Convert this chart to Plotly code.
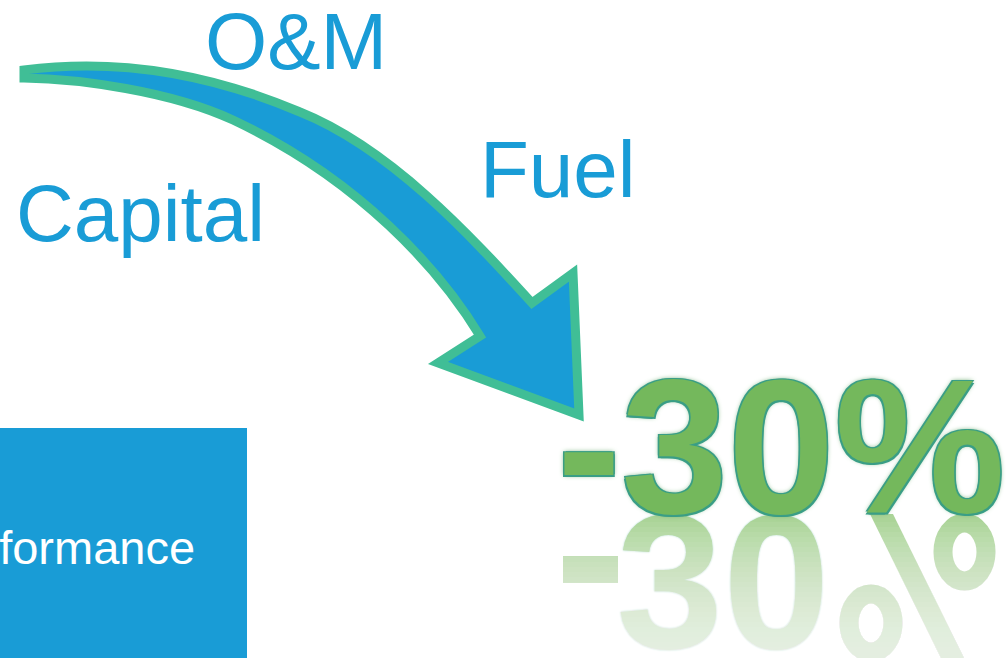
import plotly.graph_objects as go

# ---- content ----
cost_labels = ["O&M", "Fuel", "Capital"]
reduction_label = "-30%"
reflection_digits = "30"
box_label = "Performance"

# ---- style ----
BLUE = "#199cd6"
GREEN_LINE = "#40be96"
TEXT_GREEN = "#74b85c"
REFL_GREEN = "#abd498"
W, H = 1007, 658

label_pos = [(296, 41), (558, 169), (140, 213)]

fig = go.Figure()

# reflection digits (trace layer so the white fade overlay can cover them)
fig.add_trace(go.Scatter(
    x=[723], y=[600], mode="text", text=[reflection_digits],
    textposition="middle center",
    textfont=dict(family="Liberation Sans", size=192, color=REFL_GREEN, weight="bold",
                  shadow="0 0 2px #9fd6c0"),
    hoverinfo="skip", showlegend=False,
))

shapes = []
# blue box bottom-left
shapes.append(dict(type="rect", x0=-5, x1=247, y0=428, y1=665, fillcolor=BLUE,
                   line=dict(width=0), layer="below"))
# curved arrow
arrow_path = ("M 24,70 C 130,56 225,80 300,112 C 390,148 470,235 532,303 "
              "L 573,273 L 579,415 L 438,363 L 480,336 "
              "C 440,270 360,180 233,120 C 170,91 80,79 24,78 Z")
shapes.append(dict(type="path", path=arrow_path, fillcolor=BLUE,
                   line=dict(color=GREEN_LINE, width=9), layer="below"))
# reflection pieces: minus sign and mirrored percent sign
shapes.append(dict(type="rect", x0=563, x1=618, y0=556, y1=583, fillcolor=REFL_GREEN,
                   line=dict(width=0), layer="below"))
shapes.append(dict(type="circle", x0=943, x1=986, y0=523, y1=581,
                   line=dict(color=REFL_GREEN, width=19), layer="below"))
shapes.append(dict(type="circle", x0=849, x1=893, y0=594, y1=652,
                   line=dict(color=REFL_GREEN, width=19), layer="below"))
shapes.append(dict(type="path", path="M 870,514 L 893,514 L 966,662 L 943,662 Z",
                   fillcolor=REFL_GREEN, line=dict(width=0), layer="below"))
# smooth stepped white fade over the reflection
for i in range(26):
    y0 = 522 + 5 * i
    shapes.append(dict(type="rect", x0=550, x1=1010, y0=y0, y1=665,
                       fillcolor="white", opacity=0.055, line=dict(width=0), layer="above"))

annotations = []
for lab, (x, y) in zip(cost_labels, label_pos):
    annotations.append(dict(x=x, y=y, text=lab, showarrow=False, xanchor="center", yanchor="middle",
                            font=dict(family="Liberation Sans", size=80, color=BLUE)))
annotations.append(dict(x=197, y=547, text=box_label, showarrow=False, xanchor="right",
                        yanchor="middle",
                        font=dict(family="Liberation Sans", size=47, color="white")))
annotations.append(dict(
    x=781, y=446, text=reduction_label, showarrow=False, xanchor="center", yanchor="middle",
    font=dict(family="Liberation Sans", size=192, color=TEXT_GREEN, weight="bold",
              shadow=("-1.5px -1.5px 0 #3a9e86, 1.5px -1.5px 0 #3a9e86, "
                      "-1.5px 1.5px 0 #3a9e86, 1.5px 1.5px 0 #3a9e86, 0 0 5px #4f9a55")),
))

fig.update_layout(
    width=W, height=H, margin=dict(l=0, r=0, t=0, b=0),
    paper_bgcolor="white", plot_bgcolor="white",
    xaxis=dict(range=[0, W], visible=False, fixedrange=True),
    yaxis=dict(range=[H, 0], visible=False, fixedrange=True),
    shapes=shapes, annotations=annotations, showlegend=False,
)

fig.write_html("out.html")
